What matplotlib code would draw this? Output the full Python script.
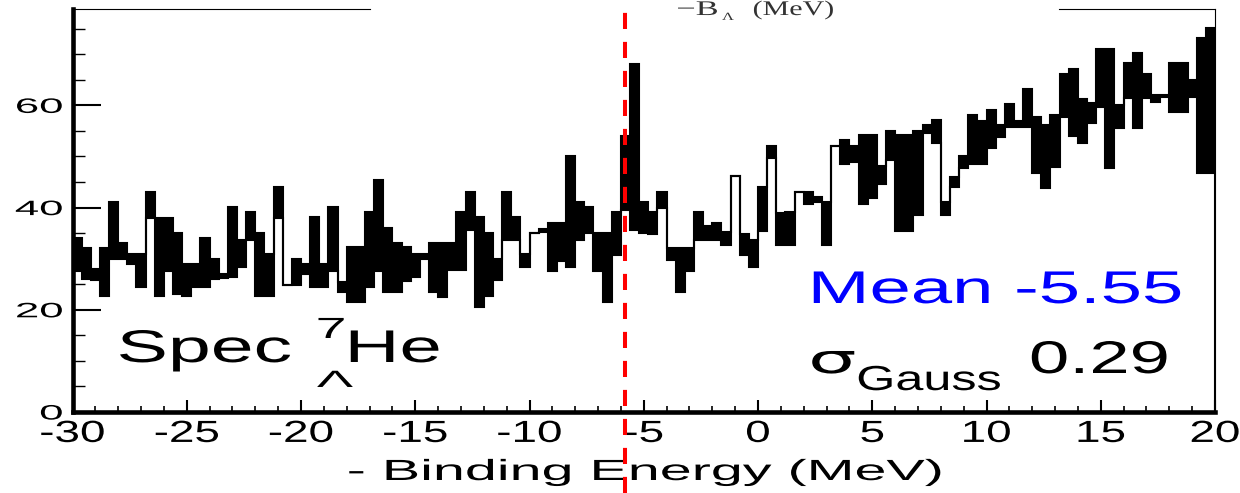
import matplotlib
matplotlib.use("Agg")
import matplotlib.pyplot as plt
import numpy as np
from matplotlib.lines import Line2D
from matplotlib.patheffects import AbstractPathEffect
from matplotlib.ticker import MultipleLocator
from matplotlib.transforms import Affine2D, blended_transform_factory

# Missing-mass spectrum, 0.4 MeV bins from -30 to 20 MeV.
# Every bin carries a low/high count band (the dense sub-bins merge into a block).
x_min, x_max = -30, 20
bin_width = 0.4
counts_high = [
    34, 32, 28, 32, 41, 33, 31, 31, 43, 38,
    38, 35, 29, 29, 34, 30, 27, 40.2, 33.6, 39.2,
    35, 31, 44, 24.8, 30, 29, 38.2, 29, 40.2, 25.5,
    32.2, 32.2, 39.2, 45.3, 36, 33, 32.2, 31, 31, 33,
    33, 33, 39.2, 43.1, 38.2, 35, 30, 43.1, 38.2, 31,
    35.1, 35.9, 37, 37, 50.1, 41, 40.2, 35.1, 35.1, 39.2,
    54, 68.1, 41, 39.2, 43.1, 32, 32, 32, 39.2, 36.3,
    37, 35.3, 46.2, 34.9, 33.6, 44.1, 52, 38.9, 39.2, 43.1,
    43.1, 42.1, 41.1, 52, 53.2, 52, 54.2, 54.2, 48.1, 55,
    54.2, 54.2, 55, 56.1, 57.1, 41.1, 46, 50.1, 58.1, 57,
    59.1, 56.1, 60.2, 57, 63.3, 57.8, 56.1, 58.1, 66.1, 67.2,
    61.2, 60.4, 71.1, 71.1, 60.1, 68.2, 70.3, 66.1, 62, 62,
    68.2, 68.2, 64.9, 73.1, 75.2,
]
counts_low = [
    27.5, 26, 25.8, 22.7, 30, 30, 29, 24.5, 38, 22.7,
    27.5, 23, 22.7, 24.5, 24.5, 26, 26.2, 26.5, 28.4, 33.6,
    22.7, 22.7, 38, 24.8, 24.8, 27, 24.5, 24.5, 27.5, 23.5,
    21.6, 21.5, 24.5, 27.5, 23.5, 23.5, 25.7, 26.5, 30, 23.5,
    22.6, 27.8, 27.8, 35.6, 20.6, 22.7, 25.8, 33.6, 33.6, 28.4,
    35.1, 35.3, 27.6, 29.6, 28.4, 33.6, 35.1, 27.6, 21.6, 30.7,
    39.5, 35.6, 35, 34.9, 40, 29.7, 23.5, 27.5, 33.6, 33.6,
    33.6, 32.7, 46.2, 30.7, 28.4, 35.5, 49.7, 32.7, 32.7, 43.1,
    40.7, 41.1, 32.7, 52, 48.6, 49, 40.7, 41.8, 44.7, 49.3,
    35.5, 35.5, 38.5, 54.6, 52.6, 38.5, 44, 47.7, 48.5, 48.5,
    51.6, 53.9, 55.7, 55.7, 55.7, 46.7, 43.8, 48, 57.8, 54,
    52.6, 56.5, 59.7, 47.7, 55.5, 61.4, 55.5, 61.4, 60.7, 61.6,
    58.7, 58.7, 61.6, 46.7, 46.7,
]

x_ticks = [-30, -25, -20, -15, -10, -5, 0, 5, 10, 15, 20]
x_tick_labels = ["-30", "-25", "-20", "-15", "-10", "-5", "0", "5", "10", "15", "20"]
y_ticks = [0, 20, 40, 60]
y_tick_labels = ["0", "20", "40", "60"]
y_top = 78.8

peak_cut = -5.8      # dashed marker position (MeV)
mean_text = "Mean -5.55"
sigma_text = "0.29"

W, H = 1240, 493


class Widen(AbstractPathEffect):
    """Draws text glyphs stretched sideways around the left, right or centre of the ink."""

    def __init__(self, sx, anchor="left"):
        super().__init__()
        self.sx = sx
        self.anchor = anchor

    def draw_path(self, renderer, gc, tpath, affine, rgbFace=None):
        ext = tpath.get_extents()
        if self.anchor == "right":
            x0 = ext.x1
        elif self.anchor == "center":
            x0 = (ext.x0 + ext.x1) / 2
        else:
            x0 = ext.x0
        stretch = Affine2D().translate(-x0, 0).scale(self.sx, 1).translate(x0, 0)
        renderer.draw_path(gc, tpath, stretch + affine, rgbFace)


plt.rcParams["font.family"] = ["Liberation Sans", "DejaVu Sans"]

fig = plt.figure(figsize=(W / 100, H / 100), dpi=100)
ax = fig.add_axes([72.5 / W, 1 - 412 / H, (1215 - 72.5) / W, (412 - 9.3) / H])

high = np.array(counts_high)
low = np.array(counts_low)
edges = x_min + bin_width * np.arange(len(high) + 1)
centers = edges[:-1] + bin_width / 2

ax.bar(centers, high - low, bottom=low, width=bin_width, color="black", linewidth=0)
ax.stairs(high, edges, baseline=0, color="black", lw=1.5)
ax.stairs(low, edges, baseline=None, color="black", lw=1.5)

ax.set_xlim(x_min, x_max)
ax.set_ylim(0, y_top)

# frame: heavy left/bottom axes, thin right edge, broken top edge
ax.spines["left"].set_linewidth(3.3)
ax.spines["bottom"].set_linewidth(3.3)
ax.spines["right"].set_linewidth(0.8)
ax.spines["top"].set_visible(False)
ax.plot([0, 0.26], [1, 1], transform=ax.transAxes, color="black", lw=0.8, clip_on=False)
ax.plot([0.8634, 1], [1, 1], transform=ax.transAxes, color="black", lw=0.8, clip_on=False)

ax.set_xticks(x_ticks)
ax.set_xticklabels(x_tick_labels)
ax.set_yticks(y_ticks)
ax.set_yticklabels(y_tick_labels)
ax.xaxis.set_minor_locator(MultipleLocator(1))
ax.yaxis.set_minor_locator(MultipleLocator(5))
ax.tick_params(axis="x", which="major", direction="in", length=8.6, width=1.5, pad=5, labelsize=22)
ax.tick_params(axis="x", which="minor", direction="in", length=4.3, width=1.2)
ax.tick_params(axis="y", which="major", direction="in", length=20, width=1.5, pad=7, labelsize=15)
ax.tick_params(axis="y", which="minor", direction="in", length=8.6, width=1.0)
for lab in ax.get_xticklabels():
    lab.set_path_effects([Widen(1.5, "center")])
for lab in ax.get_yticklabels():
    lab.set_path_effects([Widen(2.1, "right")])


def put(x_px, y_px, s, size, sx, anchor="left", **kw):
    ha = {"left": "left", "right": "right", "center": "center"}[anchor]
    fig.text(x_px / W, 1 - y_px / H, s, fontsize=size, ha=ha, va="baseline",
             path_effects=[Widen(sx, anchor)], **kw)


put(645, 480, "- Binding Energy (MeV)", 21, 1.97, "center")

put(118, 362, "Spec", 33, 1.68)
put(317, 338, "7", 21, 1.9)
put(317, 387, "Λ", 17, 2.3)
put(347, 362, "He", 33, 1.66)

put(810, 303, mean_text, 33, 1.62, color="#0000ff")
put(810, 373, "σ", 29, 1.9, family="DejaVu Sans")
put(857, 390, "Gauss", 25, 1.45)
put(1030, 373, sigma_text, 33, 1.58)

# header of the neighbouring pad, clipped at the top edge
put(677, 15, "−B", 15, 1.65, family="Liberation Serif", color="#333333")
put(722, 20, "Λ", 8, 1.5, family="Liberation Serif", color="#333333")
put(753, 15, "(MeV)", 15, 1.44, family="Liberation Serif", color="#333333")

# dashed marker at the peak, running over the whole canvas
blend = blended_transform_factory(ax.transData, fig.transFigure)
fig.add_artist(Line2D([peak_cut, peak_cut], [0, 1], transform=blend, color="red",
                      lw=2.9, linestyle=(0, (4, 3.2)), zorder=10))

fig.savefig("out.png", dpi=100)
